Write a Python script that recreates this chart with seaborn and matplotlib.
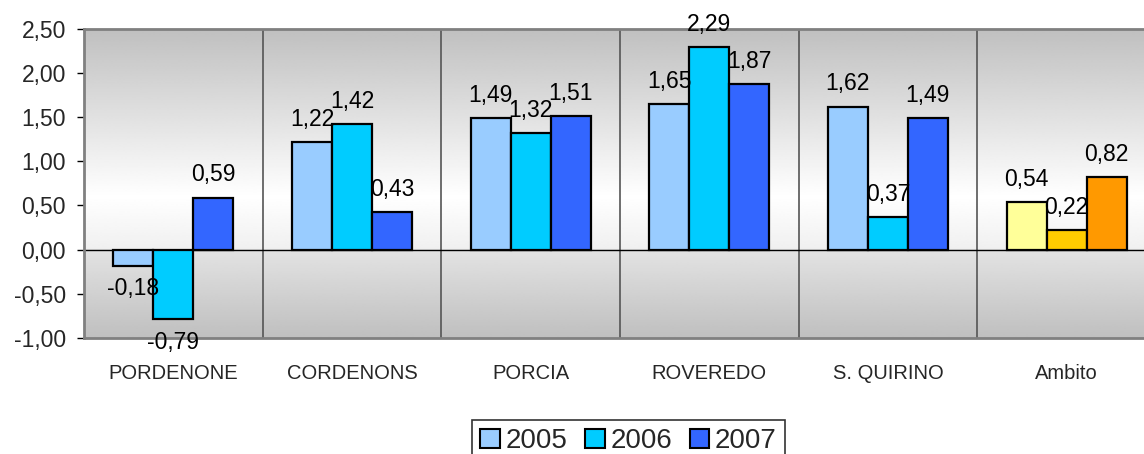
import numpy as np
import pandas as pd
import matplotlib.pyplot as plt
from matplotlib.patches import Patch
from matplotlib.colors import LinearSegmentedColormap
import seaborn as sns

sns.set_theme(style="white")
plt.rcParams["font.family"] = ["Liberation Sans", "DejaVu Sans"]

comuni = ["PORDENONE", "CORDENONS", "PORCIA", "ROVEREDO", "S. QUIRINO", "Ambito"]
anni = ["2005", "2006", "2007"]
val_2005 = [-0.18, 1.22, 1.49, 1.65, 1.62, 0.54]
val_2006 = [-0.79, 1.42, 1.32, 2.29, 0.37, 0.22]
val_2007 = [0.59, 0.43, 1.51, 1.87, 1.49, 0.82]

colori = ["#99CCFF", "#00CCFF", "#3366FF"]
colori_ambito = ["#FFFF99", "#FFCC00", "#FF9900"]

df = pd.DataFrame({
    "Comune": comuni * 3,
    "Anno": [a for a in anni for _ in comuni],
    "Valore": val_2005 + val_2006 + val_2007,
})

fig = plt.figure(figsize=(11.44, 4.54), dpi=100)
ax = fig.add_axes([0.0734, 0.2555, 0.937, 0.681])

# sfondo sfumato dell'area del grafico
ymin, ymax = -1.0, 2.5
yy = np.linspace(ymax, ymin, 600)
grey = np.interp(-yy, [-2.5, -0.6, -0.0001], [0.75, 1.0, 0.94])
grey[yy < 0] = np.interp(yy[yy < 0], [-1.0, -0.0001], [0.75, 0.89])
grad = np.repeat(grey[:, None], 2, axis=1)
cmap = LinearSegmentedColormap.from_list("g", ["black", "white"])
ax.imshow(grad, extent=[-0.5, 5.5, ymin, ymax], aspect="auto", cmap=cmap,
          vmin=0, vmax=1, zorder=0, interpolation="bilinear")

sns.barplot(data=df, x="Comune", y="Valore", hue="Anno", palette=colori,
            width=0.672, edgecolor="black", linewidth=1.6, legend=False,
            ax=ax, zorder=3, saturation=1)

for i, cont in enumerate(ax.containers):
    cont[5].set_facecolor(colori_ambito[i])
    etichette = [f"{v:.2f}".replace(".", ",") for v in cont.datavalues]
    ax.bar_label(cont, labels=etichette, padding=8, fontsize=16.5, color="black", zorder=5)

for xs in np.arange(0.5, 5.5, 1):
    ax.axvline(xs, color="#555555", linewidth=1.2, zorder=1)
ax.axhline(0, color="black", linewidth=1.0, zorder=2)

ax.set_xlim(-0.5, 5.5)
ax.set_ylim(ymin, ymax)
yt = np.arange(-1.0, 2.51, 0.5)
ax.set_yticks(yt)
ax.set_yticklabels([f"{v:.2f}".replace(".", ",") for v in yt], fontsize=16.5)
ax.tick_params(axis="y", length=5, width=1, color="black", pad=8, left=True)
ax.tick_params(axis="x", length=0, pad=19, labelsize=14.5)
ax.set_xlabel("")
ax.set_ylabel("")

for s in ["top", "bottom", "right", "left"]:
    ax.spines[s].set_color("#808080")
    ax.spines[s].set_linewidth(2)

handles = [Patch(facecolor=c, edgecolor="black", linewidth=1.5, label=a) for c, a in zip(colori, anni)]
leg = ax.legend(handles=handles, loc="upper center", bbox_to_anchor=(0.508, -0.265), ncol=3,
                fontsize=20, frameon=True, fancybox=False, edgecolor="black",
                handlelength=0.7, handleheight=0.7, handletextpad=0.2, columnspacing=0.65,
                borderpad=0.3, borderaxespad=0)
leg.get_frame().set_linewidth(1.2)

fig.savefig("out.png", dpi=100)
